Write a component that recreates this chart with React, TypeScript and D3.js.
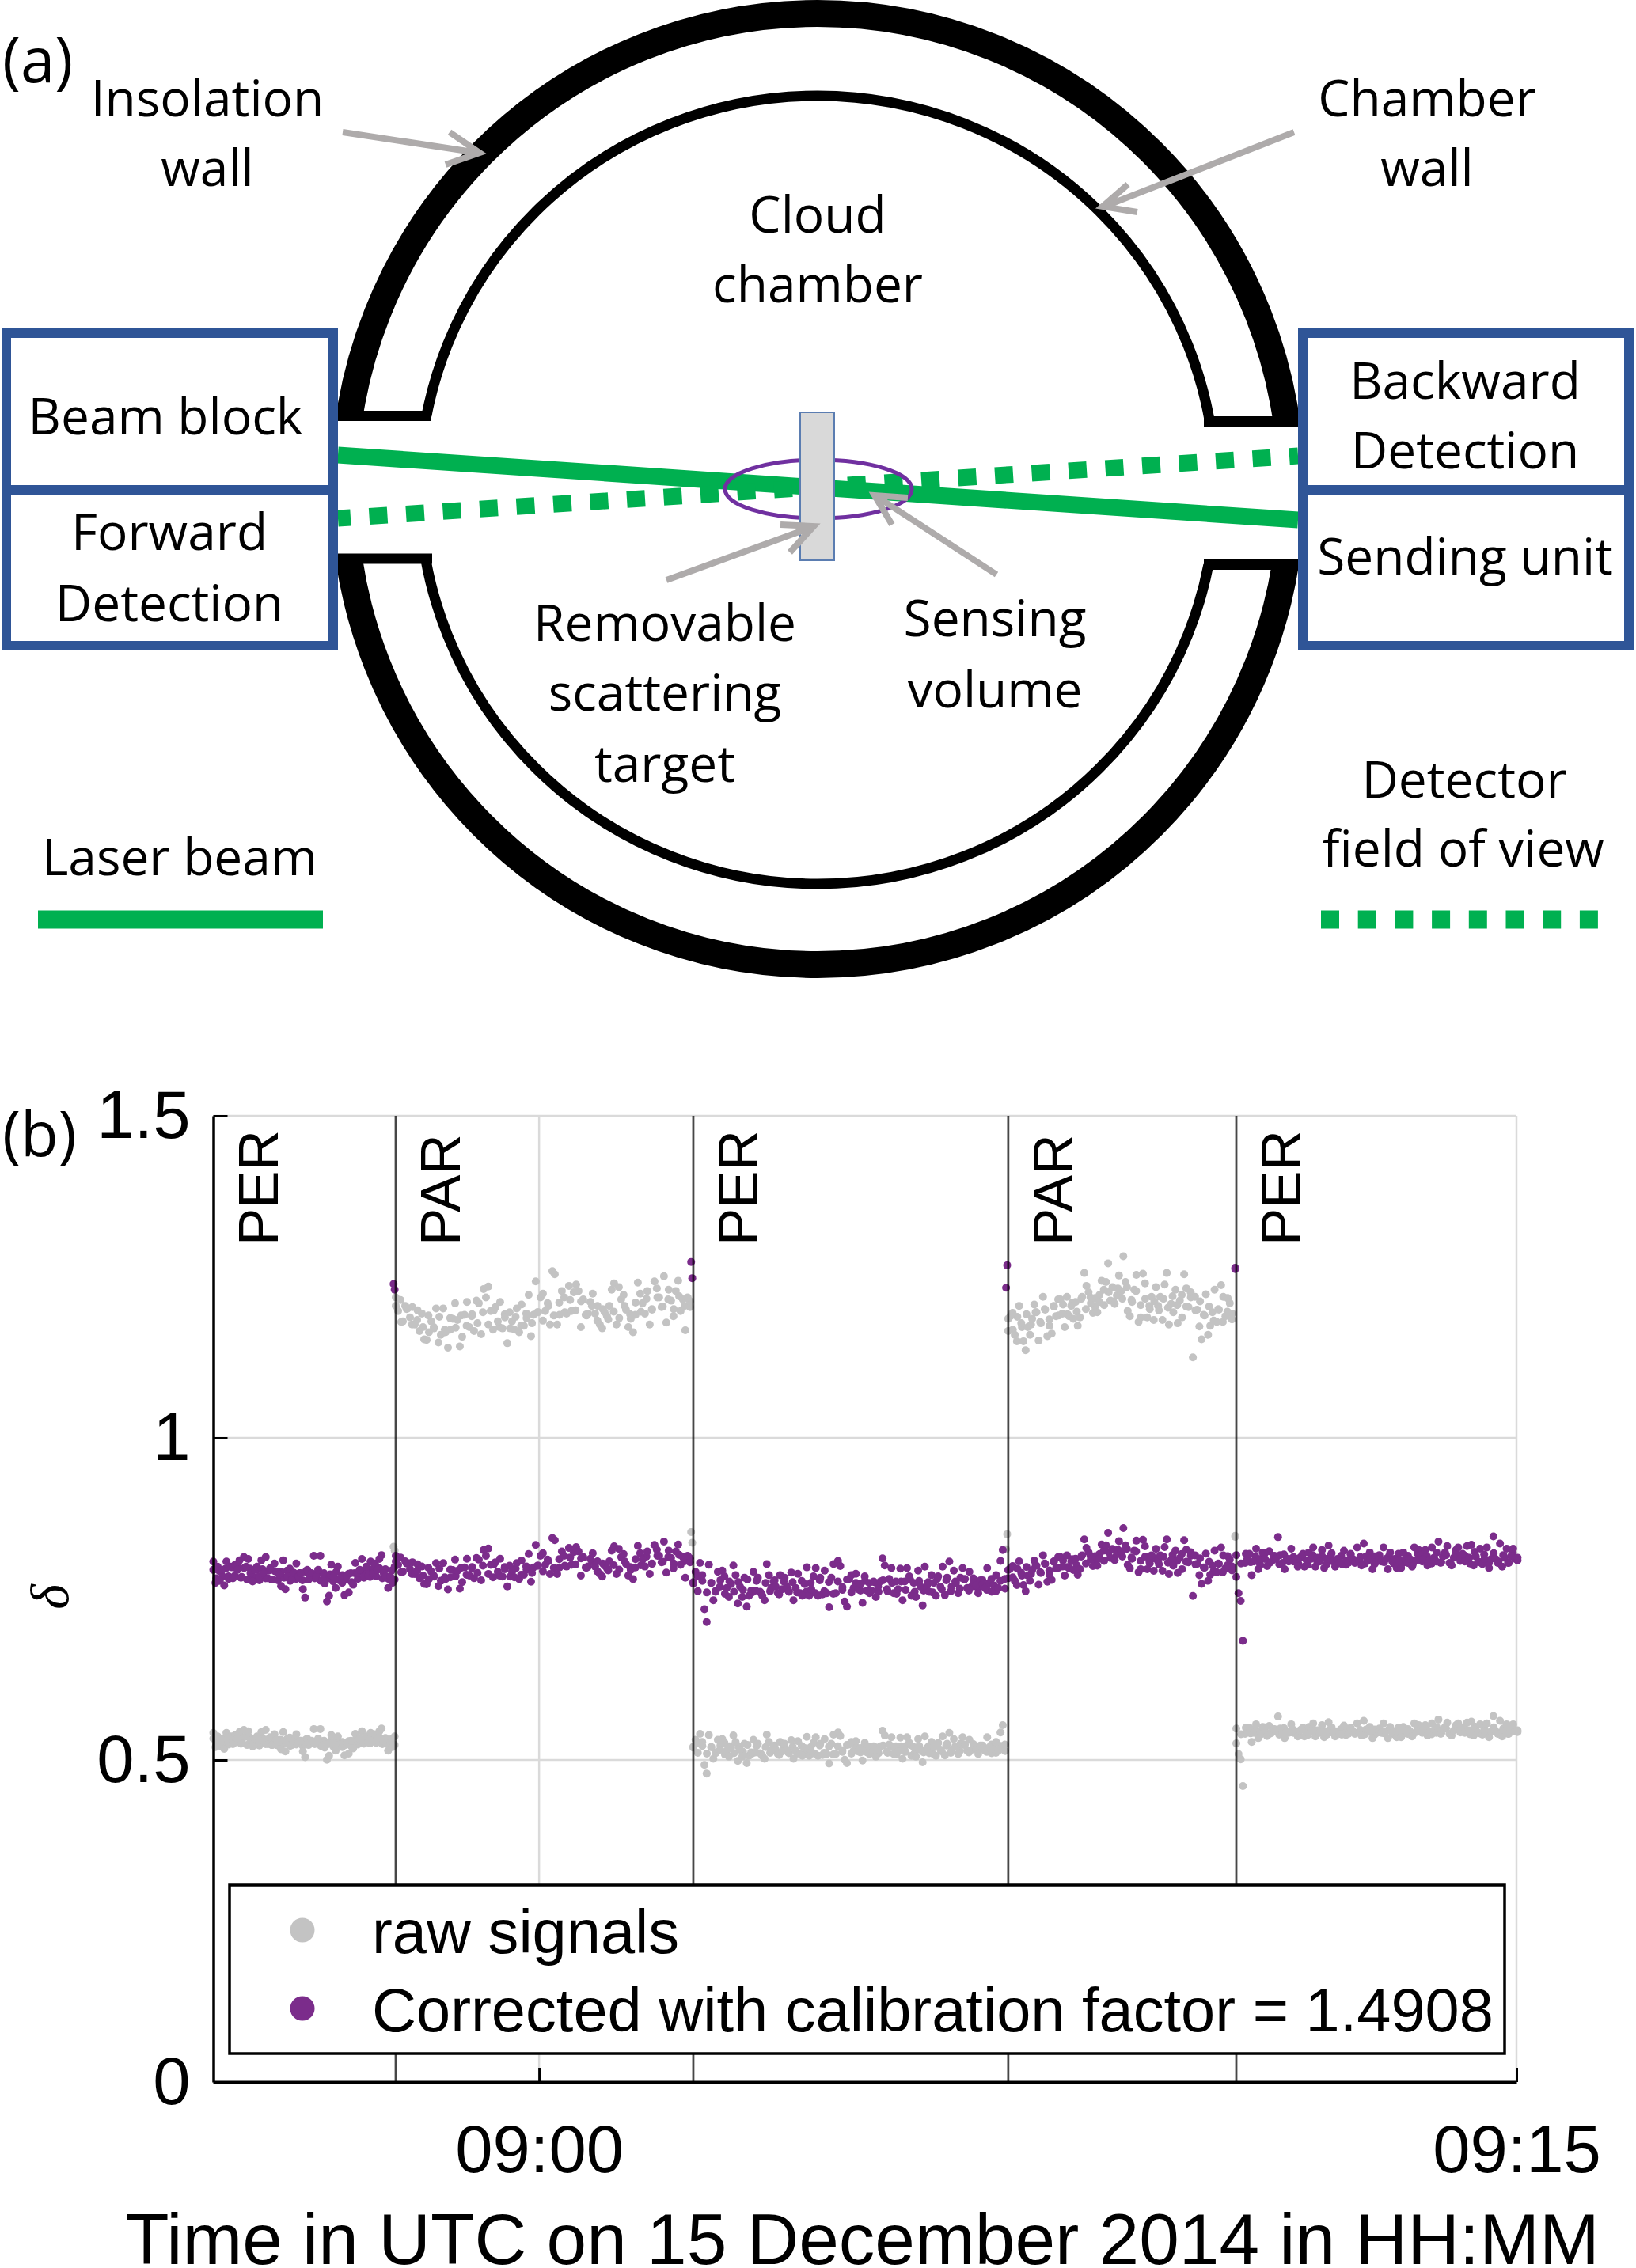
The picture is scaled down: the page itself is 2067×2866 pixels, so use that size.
import { useEffect, useRef } from "react";
import * as d3 from "d3";

// Upper band of every stretch, read left to right off the picture. In PER stretches the upper
// band is the corrected signal, in PAR stretches it is the raw one.
const perA = [.808,.775,.800,.778,.795,.771,.808,.785,.800,.782,.803,.795,.810,.784,.815,.800,.812,.790,.777,.795,.800,.785,.810,.790,.815,.782,.798,.780,.805,.792,.788,.770,.810,.765,.785,.797,.780,.790,.805,.785,.790,.765,.752,.795,.785,.790,.817,.785,.795,.817,.780,.774,.746,.755,.803,.785,.767,.800,.782,.775,.756,.785,.760,.790,.772,.806,.790,.795,.812,.785,.800,.786,.808,.790,.805,.795,.812,.818,.790,.785,.767,.785,.775,.800];
const parA = [1.218,1.197,1.214,1.181,1.205,1.201,1.187,1.203,1.176,1.183,1.166,1.193,1.153,1.152,1.164,1.181,1.172,1.201,1.148,1.160,1.201,1.164,1.140,1.168,1.185,1.209,1.183,1.142,1.157,1.191,1.211,1.172,1.189,1.166,1.213,1.209,1.161,1.231,1.218,1.235,1.197,1.168,1.203,1.181,1.211,1.170,1.187,1.147,1.195,1.181,1.168,1.201,1.164,1.207,1.174,1.193,1.222,1.158,1.191,1.243,1.195,1.218,1.224,1.197,1.209,1.176,1.259,1.254,1.176,1.191,1.228,1.218,1.193,1.236,1.197,1.226,1.238,1.228,1.172,1.215,1.191,1.193,1.211,1.224,1.193,1.205,1.176,1.170,1.195,1.189,1.205,1.230,1.240,1.176,1.234,1.215,1.222,1.199,1.172,1.185,1.164,1.191,1.241,1.224,1.209,1.193,1.228,1.176,1.199,1.243,1.232,1.218,1.203,1.251,1.179,1.230,1.213,1.189,1.228,1.244,1.197,1.215,1.167,1.218,1.203];
const perB = [.774,.792,.785,.806,.787,.734,.714,.803,.775,.748,.761,.792,.769,.794,.785,.767,.753,.773,.802,.787,.743,.769,.753,.783,.738,.755,.763,.792,.763,.783,.761,.755,.748,.804,.787,.767,.777,.769,.759,.787,.765,.783,.769,.761,.791,.748,.767,.789,.759,.755,.773,.799,.755,.765,.785,.798,.755,.783,.757,.794,.759,.737,.783,.804,.759,.809,.801,.768,.746,.738,.781,.787,.767,.789,.765,.773,.744,.785,.763,.775,.763,.777,.753,.769,.777,.813,.802,.765,.781,.798,.759,.777,.765,.797,.748,.777,.798,.785,.755,.775,.753,.794,.769,.740,.800,.771,.761,.787,.775,.755,.785,.769,.800,.756,.783,.808,.769,.794,.775,.759,.783,.798,.781,.767,.792,.769,.775,.771,.759,.779,.773,.767,.798,.775,.761,.771,.787,.767,.809,.826,.781];
const parB = [1.166,1.189,1.194,1.160,1.150,1.205,1.178,1.150,1.136,1.172,1.160,1.185,1.207,1.195,1.151,1.178,1.219,1.199,1.158,1.174,1.162,1.205,1.189,1.215,1.215,1.193,1.172,1.219,1.189,1.205,1.185,1.211,1.174,1.187,1.219,1.256,1.236,1.226,1.209,1.194,1.217,1.195,1.211,1.244,1.230,1.242,1.271,1.213,1.234,1.208,1.221,1.252,1.228,1.282,1.242,1.197,1.189,1.211,1.230,1.253,1.180,1.187,1.255,1.240,1.187,1.205,1.219,1.183,1.234,1.205,1.219,1.183,1.238,1.256,1.176,1.208,1.195,1.230,1.178,1.213,1.187,1.254,1.232,1.203,1.226,1.125,1.219,1.199,1.173,1.153,1.191,1.223,1.160,1.174,1.195,1.230,1.180,1.199,1.237,1.219,1.189,1.217,1.209,1.193];
const perC = [.784,.759,.747,.685,.806,.812,.820,.787,.808,.828,.796,.812,.822,.812,.801,.824,.808,.816,.812,.846,.818,.806,.796,.812,.812,.828,.808,.812,.800,.814,.818,.800,.810,.822,.812,.830,.800,.814,.808,.826,.798,.812,.833,.818,.808,.800,.812,.806,.804,.825,.810,.806,.820,.812,.806,.830,.808,.802,.836,.816,.810,.812,.796,.816,.808,.810,.808,.830,.812,.796,.822,.808,.812,.798,.810,.798,.822,.812,.806,.812,.800,.830,.810,.826,.818,.812,.826,.802,.810,.830,.814,.808,.839,.806,.816,.822,.832,.806,.802,.814,.826,.830,.812,.820,.808,.832,.814,.834,.802,.816,.808,.828,.804,.812,.830,.798,.812,.847,.812,.806,.836,.800,.814,.828,.806,.816,.828,.812,.814];

// Second pass over the solid core of each band, where single dots cannot be told apart.
const perACore = [.795,.782,.793,.785,.797,.781,.799,.786,.800,.783,.798,.780,.797,.784,.795,.779,.796,.782,.794,.780,.793,.779,.792,.783,.794,.778,.791,.781,.790,.779,.792,.780,.789,.782,.791,.778,.790,.781,.788,.777,.792,.779,.787,.780,.789,.776,.790,.781,.793,.783,.795,.784,.797,.785,.798,.782,.796,.781,.794,.780];
const parACore = [1.205,1.180,1.200,1.176,1.198,1.172,1.190,1.170,1.188,1.168,1.186,1.171,1.190,1.174,1.192,1.178,1.195,1.176,1.198,1.172,1.192,1.170,1.188,1.174,1.186,1.178,1.195,1.182,1.205,1.190,1.210,1.195,1.214,1.198,1.212,1.190,1.205,1.182,1.200,1.184,1.196,1.186,1.205,1.192,1.210,1.196,1.216,1.200,1.218,1.204,1.215,1.200,1.220,1.205,1.212];
const perBCore = [.776,.762,.778,.760,.775,.763,.779,.758,.777,.761,.776,.764,.780,.760,.778,.759,.775,.762,.779,.757,.777,.763,.776,.760,.778,.761,.775,.759,.779,.762,.776,.758,.777,.764,.780,.760,.775,.763,.778,.759,.776,.761,.779,.762,.775,.758,.777,.764,.780,.761,.778,.763,.776,.760,.781,.765,.779,.762,.777,.766,.780,.763,.782,.767,.779,.764,.781,.762,.778,.766];
const parBCore = [1.185,1.168,1.188,1.172,1.192,1.176,1.195,1.180,1.200,1.184,1.204,1.190,1.207,1.192,1.210,1.196,1.216,1.200,1.218,1.204,1.222,1.206,1.226,1.212,1.232,1.216,1.234,1.214,1.228,1.206,1.216,1.200,1.212,1.198,1.216,1.202,1.220,1.206,1.222,1.204,1.218,1.198,1.212,1.190,1.204,1.182,1.200,1.180,1.196,1.184];
const perCCore = [.818,.805,.820,.807,.816,.803,.821,.806,.817,.804,.819,.808,.815,.805,.820,.803,.818,.807,.816,.804,.821,.806,.817,.803,.819,.808,.815,.805,.822,.804,.818,.807,.816,.805,.820,.806,.817,.803,.821,.808,.816,.805,.822,.807,.818,.804,.820,.809,.817,.805,.823,.807,.819,.806,.821,.808,.818,.806,.822,.810];

// Polarisation switches: a few corrected samples spike up right before each change.
const switchTimes = ["08:57:46", "08:57:47", "09:02:20", "09:02:21", "09:07:10", "09:07:11", "09:10:41", "09:10:41"];
const switchValues = [1.239, 1.23, 1.273, 1.248, 1.233, 1.268, 1.264, 1.262];

const segmentLabels = ["PER", "PAR", "PER", "PAR", "PER"];
const segmentStarts = ["08:55:00", "08:57:48", "09:02:22", "09:07:12", "09:10:42"];
const segmentEnds = ["08:57:47", "09:02:19", "09:07:09", "09:10:38", "09:15:01"];
const segmentValues = [perA, parA, perB, parB, perC];
const segmentCores = [perACore, parACore, perBCore, parBCore, perCCore];
const switchLines = ["08:57:48", "09:02:22", "09:07:12", "09:10:42"];

const CAL_FACTOR = 1.4908;
const yTicks = [0, 0.5, 1, 1.5];
const yGrid = [0.5, 1, 1.5];
const xTicks = ["09:00:00", "09:15:00"];
const legendLabels = ["raw signals", "Corrected with calibration factor = 1.4908"];

const GREY = "#c3c3c3";
const PURPLE = "#7b2c8b";
const GREEN = "#00b050";
const BLUE = "#2f5597";
const ARROW = "#aeabab";
const SANS = '"Open Sans", sans-serif';
const ARIAL = '"Liberation Sans", Arial, sans-serif';

const PLOT = { left: 269.5, right: 1916, top: 1410, bottom: 2631 };
const LEGEND = { x: 290, y: 2382, w: 1611, h: 213, dotX: 382, textX: 470 };
const parseTime = d3.utcParse("%H:%M:%S");

const diagramText: [string, number, number][] = [
  ["Insolation", 262, 147], ["wall", 262, 235],
  ["Chamber", 1803, 147], ["wall", 1803, 235],
  ["Cloud", 1033, 294], ["chamber", 1033, 382],
  ["Beam block", 209, 549],
  ["Forward", 214, 695], ["Detection", 214, 785],
  ["Backward", 1851, 504], ["Detection", 1851, 592],
  ["Sending unit", 1851, 726],
  ["Removable", 840, 810], ["scattering", 840, 898], ["target", 840, 988],
  ["Sensing", 1257, 804], ["volume", 1257, 894],
  ["Laser beam", 227, 1106],
  ["Detector", 1850, 1008], ["field of view", 1849, 1095],
];

const arrows = [
  "M433,167L604,193M568,167L606,193L563,208",
  "M1635,167L1395,261M1425,233L1393,261L1437,268",
  "M842,733L1026,666M986,663L1028,665L998,698",
  "M1259,726L1107,627M1147,629L1105,626L1127,663",
];

function Diagram() {
  return (
    <g>
      <defs>
        <clipPath id="upperHalf"><path d="M300,0H1760V534L300,525Z" /></clipPath>
        <clipPath id="lowerHalf"><path d="M300,706L1760,714V1240H300Z" /></clipPath>
      </defs>
      {["upperHalf", "lowerHalf"].map((id) => (
        <g key={id} clipPath={`url(#${id})`} fill="none" stroke="#000">
          <ellipse cx={1033} cy={618} rx={598.5} ry={601} strokeWidth={34} />
          <ellipse cx={1033} cy={619} rx={503} ry={498} strokeWidth={13} />
        </g>
      ))}
      <path d="M427,525.5H545M1521,532.5H1640M427,706H546M1521,713.5H1640" stroke="#000" strokeWidth={13} />

      <line x1={427} y1={575} x2={1640} y2={657} stroke={GREEN} strokeWidth={21} />
      <line x1={427} y1={655} x2={1640} y2={576} stroke={GREEN} strokeWidth={21} strokeDasharray="23 23.6" strokeDashoffset={7} />
      <ellipse cx={1034} cy={618} rx={118} ry={37} fill="none" stroke="#7030a0" strokeWidth={5} />
      <rect x={1011} y={521} width={43} height={187} fill="#d9d9d9" stroke="#5b7db1" strokeWidth={2} />

      <rect x={8} y={421} width={413} height={395} fill="none" stroke={BLUE} strokeWidth={12} />
      <line x1={8} y1={619} x2={421} y2={619} stroke={BLUE} strokeWidth={12} />
      <rect x={1646} y={421} width={412} height={395} fill="none" stroke={BLUE} strokeWidth={12} />
      <line x1={1646} y1={619} x2={2058} y2={619} stroke={BLUE} strokeWidth={12} />

      {arrows.map((d, i) => (
        <path key={i} d={d} fill="none" stroke={ARROW} strokeWidth={8} />
      ))}

      <line x1={48} y1={1162} x2={408} y2={1162} stroke={GREEN} strokeWidth={23} />
      <line x1={1669} y1={1162} x2={2020} y2={1162} stroke={GREEN} strokeWidth={23} strokeDasharray="23 23.7" />

      <g fontFamily={SANS} fontSize={64} textAnchor="middle" fill="#000">
        {diagramText.map(([t, x, y], i) => (
          <text key={i} x={x} y={y}>{t}</text>
        ))}
      </g>
      <text x={3} y={104} fontFamily={SANS} fontSize={78} fill="#000">(a)</text>
      <text x={3} y={1461} fontFamily={SANS} fontSize={78} fill="#000">(b)</text>
    </g>
  );
}

export default function App() {
  const plotRef = useRef<SVGGElement>(null);

  useEffect(() => {
    const g = d3.select(plotRef.current);
    g.selectAll("*").remove();

    const x = d3
      .scaleUtc()
      .domain([parseTime("08:55:00") as Date, parseTime("09:15:00") as Date])
      .range([PLOT.left, PLOT.right]);
    const y = d3.scaleLinear().domain([0, 1.5]).range([PLOT.bottom, PLOT.top]);

    // Grid
    g.append("g")
      .selectAll("line")
      .data(yGrid)
      .join("line")
      .attr("x1", PLOT.left)
      .attr("x2", PLOT.right)
      .attr("y1", (d) => y(d))
      .attr("y2", (d) => y(d))
      .attr("stroke", "#dadada")
      .attr("stroke-width", 2.5);
    g.append("g")
      .selectAll("line")
      .data(xTicks)
      .join("line")
      .attr("x1", (d) => x(parseTime(d) as Date))
      .attr("x2", (d) => x(parseTime(d) as Date))
      .attr("y1", PLOT.top)
      .attr("y2", PLOT.bottom)
      .attr("stroke", "#dadada")
      .attr("stroke-width", 2.5);

    // One {time, raw, corrected} row per sample; the two bands differ by the calibration factor.
    const toSamples = (lists: number[][]) =>
      lists.flatMap((values, s) => {
        const t = d3
          .scaleLinear()
          .domain([0, values.length - 1])
          .range([+(parseTime(segmentStarts[s]) as Date), +(parseTime(segmentEnds[s]) as Date)]);
        const isPer = segmentLabels[s] === "PER";
        return values.map((v, i) => ({
          time: new Date(t(i)),
          raw: isPer ? v / CAL_FACTOR : v,
          corrected: isPer ? v : v / CAL_FACTOR,
        }));
      });
    const samples = [...toSamples(segmentCores), ...toSamples(segmentValues)];
    switchValues.forEach((v, i) => {
      samples.push({ time: parseTime(switchTimes[i]) as Date, raw: v / CAL_FACTOR, corrected: v });
    });

    g.append("g")
      .selectAll("circle")
      .data(samples)
      .join("circle")
      .attr("cx", (d) => x(d.time))
      .attr("cy", (d) => y(d.raw))
      .attr("r", 5)
      .attr("fill", GREY);
    g.append("g")
      .selectAll("circle")
      .data(samples)
      .join("circle")
      .attr("cx", (d) => x(d.time))
      .attr("cy", (d) => y(d.corrected))
      .attr("r", 5)
      .attr("fill", PURPLE);

    // Switch lines over the dots
    g.append("g")
      .selectAll("line")
      .data(switchLines)
      .join("line")
      .attr("x1", (d) => x(parseTime(d) as Date))
      .attr("x2", (d) => x(parseTime(d) as Date))
      .attr("y1", PLOT.top)
      .attr("y2", PLOT.bottom)
      .attr("stroke", "rgba(0,0,0,0.72)")
      .attr("stroke-width", 2.8);

    g.append("g")
      .selectAll("text")
      .data(segmentLabels)
      .join("text")
      .attr("transform", (_, i) => `translate(${x(parseTime(segmentStarts[i]) as Date) + 81},1574) rotate(-90)`)
      .attr("font-family", ARIAL)
      .attr("font-size", 71)
      .text((d) => d);

    // Axes
    const styleAxis = (sel: d3.Selection<SVGGElement, unknown, null, undefined>, width: number) => {
      sel.selectAll(".domain").attr("stroke-width", width);
      sel.selectAll(".tick line").attr("stroke-width", 3);
      sel.selectAll("text").attr("font-family", ARIAL).attr("font-size", 85).attr("fill", "#000");
    };
    g.append("g")
      .attr("transform", `translate(${PLOT.left},0)`)
      .call(
        d3
          .axisLeft(y)
          .tickValues(yTicks)
          .tickSizeInner(-18)
          .tickSizeOuter(0)
          .tickPadding(29)
          .tickFormat((d) => String(d)),
      )
      .call((sel) => styleAxis(sel as never, 3.5));
    g.append("g")
      .attr("transform", `translate(0,${PLOT.bottom})`)
      .call(
        d3
          .axisBottom(x)
          .tickValues(xTicks.map((d) => parseTime(d) as Date))
          .tickSizeInner(-18)
          .tickSizeOuter(0)
          .tickPadding(54)
          .tickFormat((d) => d3.utcFormat("%H:%M")(d as Date)),
      )
      .call((sel) => styleAxis(sel as never, 4));

    // Axis titles
    g.append("text")
      .attr("x", 158)
      .attr("y", 2861)
      .attr("font-family", ARIAL)
      .attr("font-size", 91)
      .text("Time in UTC on 15 December 2014 in HH:MM");
    g.append("text")
      .attr("transform", "translate(86,2018) rotate(-90)")
      .attr("text-anchor", "middle")
      .attr("font-family", '"Liberation Serif", serif')
      .attr("font-style", "italic")
      .attr("font-size", 68)
      .text("δ");

    // Legend
    const legend = g.append("g");
    legend
      .append("rect")
      .attr("x", LEGEND.x)
      .attr("y", LEGEND.y)
      .attr("width", LEGEND.w)
      .attr("height", LEGEND.h)
      .attr("fill", "#fff")
      .attr("stroke", "#000")
      .attr("stroke-width", 3.5);
    const rows = legend
      .selectAll("g")
      .data(legendLabels)
      .join("g")
      .attr("transform", (_, i) => `translate(0,${2439 + i * 99})`);
    rows
      .append("circle")
      .attr("cx", LEGEND.dotX)
      .attr("r", 15.5)
      .attr("fill", (_, i) => (i === 0 ? GREY : PURPLE));
    rows
      .append("text")
      .attr("x", LEGEND.textX)
      .attr("y", 29)
      .attr("font-family", ARIAL)
      .attr("font-size", 77.6)
      .text((d) => d);
  }, []);

  return (
    <svg
      width={2067}
      height={2866}
      viewBox="0 0 2067 2866"
      style={{ position: "absolute", left: 0, top: 0, background: "#fff" }}
    >
      <Diagram />
      <g ref={plotRef} />
    </svg>
  );
}
